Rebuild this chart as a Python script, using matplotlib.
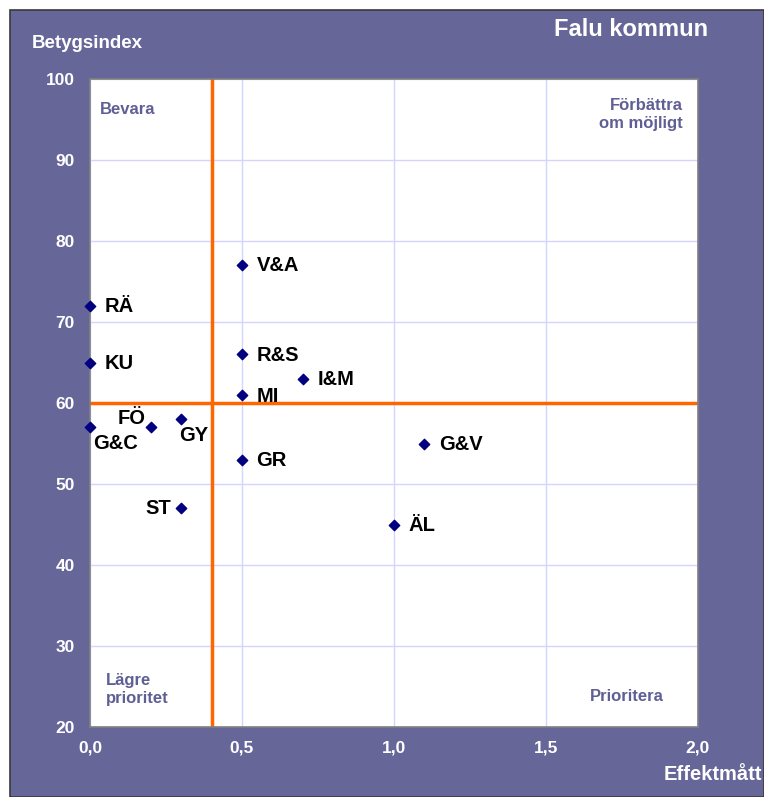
import matplotlib
matplotlib.use("Agg")
import matplotlib.pyplot as plt
from matplotlib.patches import Rectangle

plt.rcParams['font.family'] = ['Liberation Sans', 'DejaVu Sans']

labels = ["V&A", "RÄ", "KU", "R&S", "I&M", "MI", "FÖ", "G&C", "GY", "GR", "G&V", "ST", "ÄL"]
effekt = [0.5, 0.0, 0.0, 0.5, 0.7, 0.5, 0.2, 0.0, 0.3, 0.5, 1.1, 0.3, 1.0]
betyg = [77, 72, 65, 66, 63, 61, 57, 57, 58, 53, 55, 47, 45]
# label offsets in points (dx, dy) and alignment
offsets = {
    "V&A": (10.5, -0.5, "left", "center"),
    "RÄ": (10.5, -0.5, "left", "center"),
    "KU": (10.5, -0.5, "left", "center"),
    "R&S": (10.5, -0.5, "left", "center"),
    "I&M": (10.5, -0.5, "left", "center"),
    "MI": (10.5, -1, "left", "center"),
    "FÖ": (-3.5, 6, "right", "center"),
    "G&C": (2, -11.5, "left", "center"),
    "GY": (-1.5, -12, "left", "center"),
    "GR": (10.5, -0.5, "left", "center"),
    "G&V": (10.5, -0.5, "left", "center"),
    "ST": (-7, -0.5, "right", "center"),
    "ÄL": (10.5, -0.5, "left", "center"),
}
xticks = [0.0, 0.5, 1.0, 1.5, 2.0]
xtick_labels = ["0,0", "0,5", "1,0", "1,5", "2,0"]
yticks = [20, 30, 40, 50, 60, 70, 80, 90, 100]
x_threshold = 0.4
y_threshold = 60

W, H = 764, 797
fig = plt.figure(figsize=(W / 100, H / 100), dpi=100, facecolor="white")
purple = "#666699"
bg = Rectangle((10 / W, 0), 1 - 10 / W, 1 - 10 / H, transform=fig.transFigure,
               facecolor=purple, edgecolor="#3a3a3a", linewidth=1.2, zorder=-10)
fig.add_artist(bg)

ax = fig.add_axes([90 / W, 1 - 727 / H, (698 - 90) / W, (727 - 79) / H])
ax.set_zorder(5)
ax.set_facecolor("white")
ax.set_xlim(0, 2)
ax.set_ylim(20, 100)
ax.set_xticks(xticks)
ax.set_xticklabels(xtick_labels)
ax.set_yticks(yticks)
ax.grid(True, color="#d4d4ff", linewidth=1)
ax.set_axisbelow(True)
for s in ax.spines.values():
    s.set_color("#808080")
    s.set_linewidth(1.2)
ax.tick_params(axis="both", length=0, labelcolor="white", labelsize=12.5)
ax.tick_params(axis="x", pad=10)
ax.tick_params(axis="y", pad=11)
for t in ax.get_xticklabels() + ax.get_yticklabels():
    t.set_fontweight("bold")

ax.axvline(x_threshold, color="#ff6600", linewidth=2.5, zorder=2)
ax.axhline(y_threshold, color="#ff6600", linewidth=2.5, zorder=2)

ax.scatter(effekt, betyg, marker="D", s=28, color="#000080", zorder=4, clip_on=False)
for lab, x, y in zip(labels, effekt, betyg):
    dx, dy, ha, va = offsets[lab]
    ax.annotate(lab, (x, y), xytext=(dx, dy), textcoords="offset points",
                ha=ha, va=va, fontsize=14.5, fontweight="bold", color="black", zorder=5)

qc = "#5f5f96"
ax.text(0.016, 0.965, "Bevara", transform=ax.transAxes, ha="left", va="top",
        fontsize=12, fontweight="bold", color=qc)
ax.text(0.975, 0.97, "Förbättra\nom möjligt", transform=ax.transAxes, ha="right", va="top",
        fontsize=12, fontweight="bold", color=qc, linespacing=1.25, multialignment="right")
ax.text(0.026, 0.032, "Lägre\nprioritet", transform=ax.transAxes, ha="left", va="bottom",
        fontsize=12, fontweight="bold", color=qc, linespacing=1.25)
ax.text(0.943, 0.035, "Prioritera", transform=ax.transAxes, ha="right", va="bottom",
        fontsize=12, fontweight="bold", color=qc)

fig.text(32 / W, 1 - 43 / H, "Betygsindex", ha="left", va="center",
         fontsize=13.5, fontweight="bold", color="white")
fig.text(631 / W, 1 - 29 / H, "Falu kommun", ha="center", va="center",
         fontsize=17, fontweight="bold", color="white")
fig.text(762 / W, 1 - 775 / H, "Effektmått", ha="right", va="center",
         fontsize=14.5, fontweight="bold", color="white")

fig.savefig("out.png", dpi=100, facecolor=fig.get_facecolor())
